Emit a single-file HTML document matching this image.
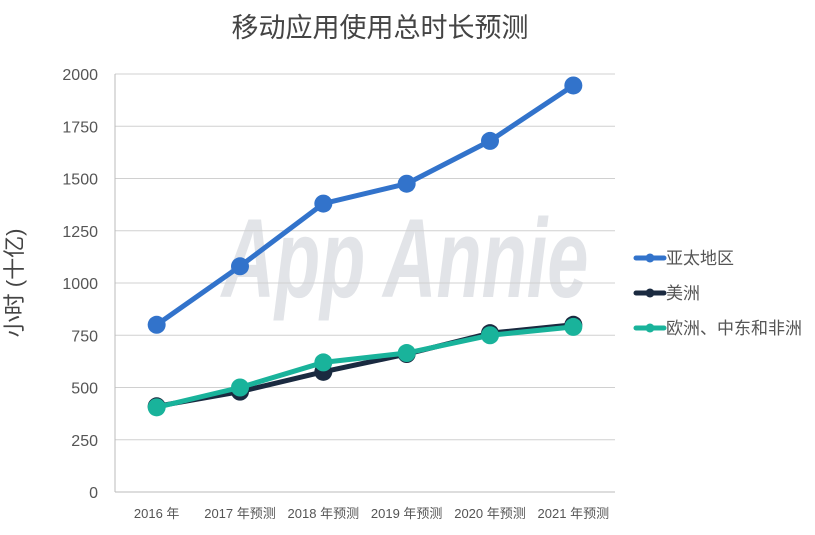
<!DOCTYPE html>
<html><head><meta charset="utf-8"><style>
body{margin:0;background:#fff;width:815px;height:530px;overflow:hidden;font-family:"Liberation Sans","Noto Sans CJK SC",sans-serif}
</style></head><body>
<svg id="chart" width="815" height="530" xmlns="http://www.w3.org/2000/svg" style="font-family:'Liberation Sans','Noto Sans CJK SC',sans-serif">
<text x="380" y="37" text-anchor="middle" font-size="27" fill="#444">移动应用使用总时长预测</text>
<text x="405" y="297" text-anchor="middle" font-size="112" font-weight="bold" font-style="italic" fill="#e2e4e8" transform="translate(405,260) scale(0.66,1) translate(-405,-260)">App Annie</text>
<text x="22" y="283" text-anchor="middle" font-size="22" fill="#444" transform="rotate(-90 22 283)">小时 (十亿)</text>
<g id="grid"></g><g id="series"></g><g id="legend"></g>
</svg>
<script>
const categories=["2016 年","2017 年预测","2018 年预测","2019 年预测","2020 年预测","2021 年预测"];
const yTicks=[0,250,500,750,1000,1250,1500,1750,2000];
const seriesNames=["亚太地区","美洲","欧洲、中东和非洲"];
const apac=[800,1080,1380,1475,1680,1945];
const americas=[410,480,575,660,760,800];
const emea=[405,500,620,665,750,790];
const colors=["#3273cb","#1a2a40","#19b39b"];
const NS="http://www.w3.org/2000/svg";
const x0=115,x1=615,y0=492,y1=74;
const band=(x1-x0)/categories.length;
const xs=i=>x0+band*(i+0.5);
const ys=v=>y0-(v/2000)*(y0-y1);
function mk(t,a,p){const e=document.createElementNS(NS,t);for(const k in a)e.setAttribute(k,a[k]);p.appendChild(e);return e;}
const grid=document.getElementById('grid');
yTicks.forEach(v=>{
  const l=mk('line',{x1:x0,x2:x1,y1:ys(v),y2:ys(v),stroke:v===0?'#bbb':'#d0d0d0','stroke-width':1},grid);
  
  
  const t=mk('text',{x:98,y:ys(v)+6,'text-anchor':'end','font-size':16,fill:'#555'},grid);
  t.textContent=v;
  
  
});
const ax=mk('line',{x1:x0,x2:x0,y1:y1,y2:y0,stroke:'#bbb'},grid);


categories.forEach((c,i)=>{
  const t=mk('text',{x:xs(i),y:518,'text-anchor':'middle','font-size':13,fill:'#555'},grid);
  t.textContent=c;
  
  
});
const sg=document.getElementById('series');
[americas,apac,emea].forEach((d,k)=>{
  const idx=[1,0,2][k];
  const g=mk('g',{},sg);
  
  
  const pl=mk('polyline',{points:d.map((v,i)=>xs(i)+','+ys(v)).join(' '),fill:'none',stroke:colors[idx],'stroke-width':5,'stroke-linejoin':'round'},g);
  
  
  d.forEach((v,i)=>{
    const c=mk('circle',{cx:xs(i),cy:ys(v),r:9,fill:colors[idx]},g);
    
    
  });
});
const lg=document.getElementById('legend');
seriesNames.forEach((n,i)=>{
  const y=258+i*35;
  const g=mk('g',{},lg);
  
  
  mk('line',{x1:636,x2:664,y1:y,y2:y,stroke:colors[i],'stroke-width':5,'stroke-linecap':'round'},g);
  mk('circle',{cx:650,cy:y,r:4.5,fill:colors[i]},g);
  const t=mk('text',{x:666,y:y+6,'font-size':17,fill:'#555'},g);
  t.textContent=n;
});
</script>
</body></html>
